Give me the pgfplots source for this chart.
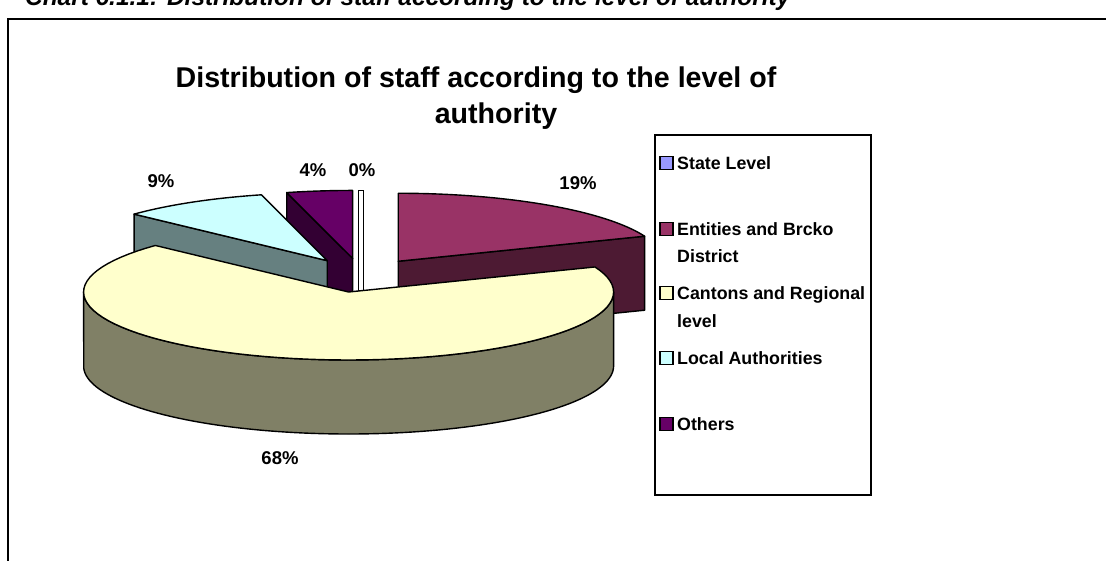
\documentclass[border=0pt]{standalone}
\usepackage{pgfplots}
\pgfplotsset{compat=1.18}
\usepackage{pgfplotstable}
\usepackage{fontspec}
\setmainfont{Liberation Sans}

\definecolor{cState}{RGB}{153,153,255}
\definecolor{cEnt}{RGB}{153,51,102}
\definecolor{cEntD}{RGB}{77,26,51}
\definecolor{cCan}{RGB}{255,255,204}
\definecolor{cCanD}{RGB}{128,128,102}
\definecolor{cLoc}{RGB}{204,255,255}
\definecolor{cLocD}{RGB}{102,128,128}
\definecolor{cOth}{RGB}{102,0,102}
\definecolor{cOthD}{RGB}{51,0,51}

% share of staff, in percent
\pgfplotstableread{
name value
State 0
Entities 19
Cantons 68
Local 9
Others 4
}\piedata

% pie geometry (in pixel units of the picture)
\def\CX{361}\def\CY{275.3}\def\RX{265}\def\RY{68}\def\DP{74}\def\EX{0.25}

\newcommand\apex[4]{%
  \pgfmathsetmacro#3{\CX+\EX*\RX*sin((#1+#2)/2)}%
  \pgfmathsetmacro#4{\CY-\EX*\RY*cos((#1+#2)/2)}}

% top face of a slice: apex (#1,#2), angles #3..#4, colour #5
\newcommand\topface[5]{%
  \addplot[fill=#5, draw=black, line width=1.4pt, line join=round,
    domain=#3:#4, samples=80, variable=\t]
    ({#1+\RX*sin(\t)},{#2-\RY*cos(\t)}) -- (axis cs:#1,#2) -- cycle;}

% radial (cut) face of a slice: apex (#1,#2), angle #3, colour #4
\newcommand\radface[4]{%
  \addplot[fill=#4, draw=black, line width=1.4pt, line join=round,
    samples at={0,1,2,3}, variable=\t]
    ({#1+\RX*sin(#3)*and(\t>0.5,\t<2.5)},
     {#2-\RY*cos(#3)*and(\t>0.5,\t<2.5)+\DP*(\t>1.5)}) -- cycle;}

\begin{document}
\begin{tikzpicture}
\pgfplotstablegetelem{0}{value}\of\piedata\pgfmathsetmacro\vA{\pgfplotsretval}
\pgfplotstablegetelem{1}{value}\of\piedata\pgfmathsetmacro\vB{\pgfplotsretval}
\pgfplotstablegetelem{2}{value}\of\piedata\pgfmathsetmacro\vC{\pgfplotsretval}
\pgfplotstablegetelem{3}{value}\of\piedata\pgfmathsetmacro\vD{\pgfplotsretval}
\pgfplotstablegetelem{4}{value}\of\piedata\pgfmathsetmacro\vE{\pgfplotsretval}
\pgfmathsetmacro\tot{\vA+\vB+\vC+\vD+\vE}
\pgfmathsetmacro\sA{0}
\pgfmathsetmacro\eA{\sA+(\vA/\tot)*360}
\pgfmathsetmacro\eB{\eA+(\vB/\tot)*360}
\pgfmathsetmacro\eC{\eB+(\vC/\tot)*360}
\pgfmathsetmacro\eD{\eC+(\vD/\tot)*360}
\pgfmathsetmacro\eE{\eD+(\vE/\tot)*360}
\apex{\sA}{\eA}\axA\ayA
\apex{\eA}{\eB}\axB\ayB
\apex{\eB}{\eC}\axC\ayC
\apex{\eC}{\eD}\axD\ayD
\apex{\eD}{\eE}\axE\ayE
\pgfmathsetmacro\sxL{\axA-2.5}\pgfmathsetmacro\sxR{\axA+2.5}
\pgfmathsetmacro\syT{\ayA-\RY}\pgfmathsetmacro\syB{\ayA+\DP}

\useasboundingbox (0,0) rectangle (1106pt,560pt);
\begin{axis}[at={(0pt,0pt)}, anchor=south west, scale only axis,
  width=1106pt, height=560pt, xmin=0, xmax=1106, ymin=0, ymax=560,
  y dir=reverse, hide axis, clip=false]

% frame and cut-off caption above it
\draw[line width=2pt] (axis cs:8,575) -- (axis cs:8,19) -- (axis cs:1115,19);
\node[anchor=base west, inner sep=0pt, font=\bfseries\itshape\fontsize{24.4}{28}\selectfont]
  at (axis cs:25,5) {Chart 6.1.1: Distribution of staff according to the level of authority};

% title
\node[anchor=base, inner sep=0pt, font=\bfseries\fontsize{28.6}{34}\selectfont]
  at (axis cs:476,87) {Distribution of staff according to the level of};
\node[anchor=base, inner sep=0pt, font=\bfseries\fontsize{28.6}{34}\selectfont]
  at (axis cs:496,123) {authority};

% Others (4%)
\radface{\axE}{\ayE}{\eD}{cOthD}
\topface{\axE}{\ayE}{\eD}{\eE}{cOth}
% Local Authorities (9%)
\radface{\axD}{\ayD}{\eC}{cLocD}
\topface{\axD}{\ayD}{\eC}{\eD}{cLoc}
% State Level (0%)
\edef\tmp{\noexpand\addplot[fill=white, draw=black, line width=1.2pt]
  coordinates {(\sxL,\syT) (\sxR,\syT) (\sxR,\syB) (\sxL,\syB)} -- cycle;}\tmp
% Entities and Brcko District (19%)
\radface{\axB}{\ayB}{\eB}{cEntD}
\topface{\axB}{\ayB}{\eA}{\eB}{cEnt}
% Cantons and Regional level (68%): outer wall then top
\addplot[fill=cCanD, draw=black, line width=1.4pt, line join=round,
  domain=90:450, samples=181, variable=\t]
  ({\axC+\RX*sin(ifthenelse(\t<=270.01,\t,540-\t))},
   {\ayC-\RY*cos(ifthenelse(\t<=270.01,\t,540-\t))+\DP*(\t>270.01)}) -- cycle;
\topface{\axC}{\ayC}{\eB}{\eC}{cCan}

% data labels
\begin{scope}[every node/.style={inner sep=0pt, font=\bfseries\fontsize{18.5}{22}\selectfont}]
\node at (axis cs:578,183) {19\%};
\node at (axis cs:161,181) {9\%};
\node at (axis cs:313,170) {4\%};
\node at (axis cs:362,170) {0\%};
\node at (axis cs:280,458) {68\%};
\end{scope}

% legend
\draw[line width=1.8pt, fill=white] (axis cs:655,135) rectangle (axis cs:871,495);
\begin{scope}[every node/.style={anchor=base west, inner sep=0pt,
    font=\bfseries\fontsize{17.8}{22}\selectfont}]
\draw[fill=cState, line width=1.2pt] (axis cs:660,156.5) rectangle (axis cs:673,169.5);
\node at (axis cs:677,169.5) {State Level};
\draw[fill=cEnt, line width=1.2pt] (axis cs:660,222.5) rectangle (axis cs:673,235.5);
\node at (axis cs:677,235.5) {Entities and Brcko};
\node at (axis cs:677,262.5) {District};
\draw[fill=cCan, line width=1.2pt] (axis cs:660,286.5) rectangle (axis cs:673,299.5);
\node at (axis cs:677,299.5) {Cantons and Regional};
\node at (axis cs:677,327.5) {level};
\draw[fill=cLoc, line width=1.2pt] (axis cs:660,351.5) rectangle (axis cs:673,364.5);
\node at (axis cs:677,364.5) {Local Authorities};
\draw[fill=cOth, line width=1.2pt] (axis cs:660,417.5) rectangle (axis cs:673,430.5);
\node at (axis cs:677,430.5) {Others};
\end{scope}
\end{axis}
\end{tikzpicture}
\end{document}
